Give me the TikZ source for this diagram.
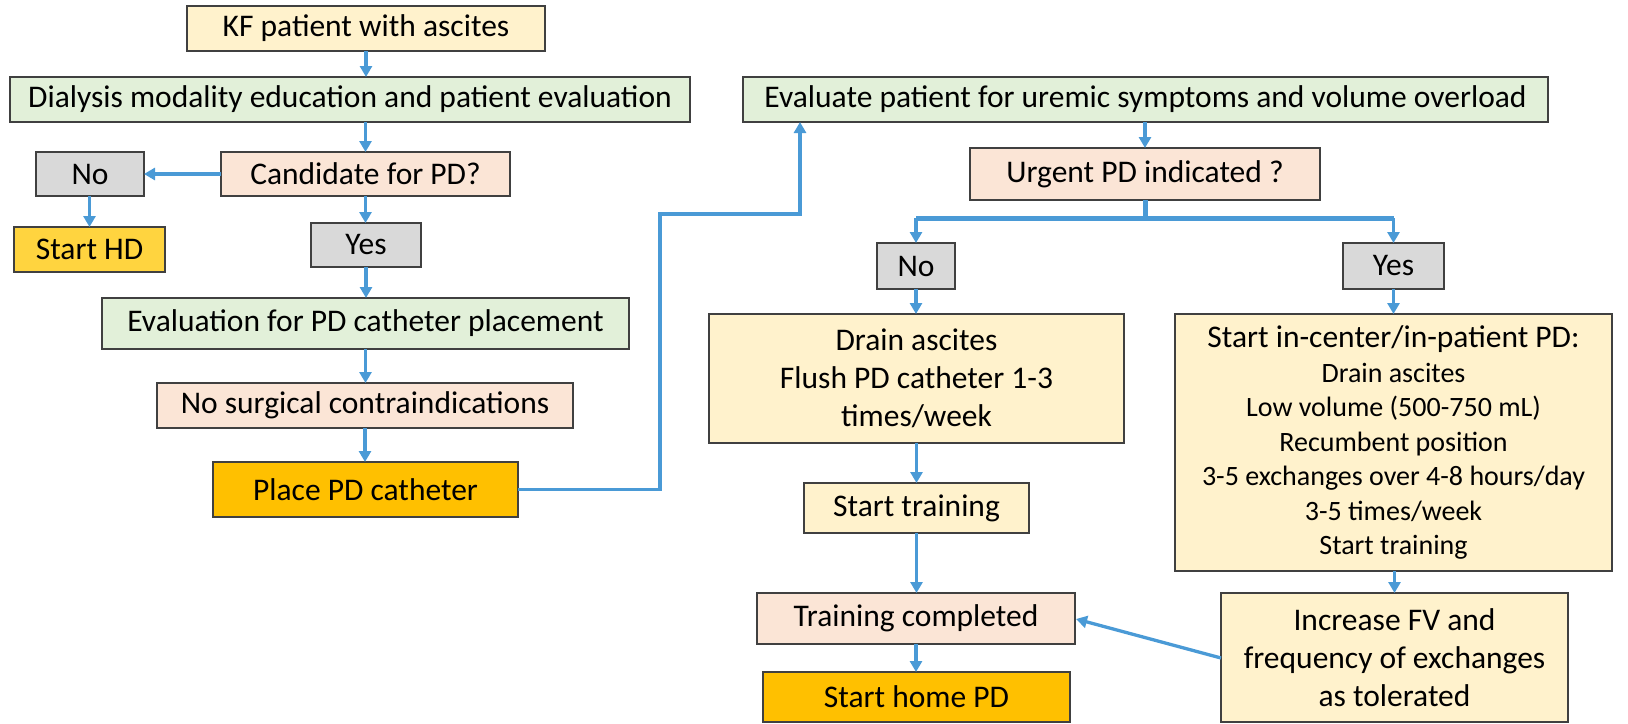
\documentclass[tikz,border=0pt]{standalone}
\usepackage{fontspec}
\setmainfont{Carlito}
\usetikzlibrary{arrows.meta}
\definecolor{cyel}{HTML}{FFF2CC}
\definecolor{cgrn}{HTML}{E2F0D9}
\definecolor{cpch}{HTML}{FBE5D6}
\definecolor{cgry}{HTML}{D9D9D9}
\definecolor{cgold}{HTML}{FFD43F}
\definecolor{corg}{HTML}{FFC000}
\definecolor{cblu}{HTML}{4A9AD6}
\definecolor{cbrd}{HTML}{404040}
\tikzset{
  bx/.style={draw=cbrd, line width=1.3pt, inner sep=0pt, outer sep=0pt, align=center,
    font=\fontsize{31.5}{38}\selectfont},
  arr/.style={draw=cblu, line width=3.3pt, -{Triangle[length=11pt,width=12pt]}},
  thk/.style={draw=cblu, line width=5pt},
}
\begin{document}
\begin{tikzpicture}[x=1pt,y=-1pt]
\useasboundingbox (0,0) rectangle (1628,723);
% left column
\node[bx, fill=cyel, minimum width=358pt, minimum height=45pt] (kf) at (366,28.5) {KF patient with ascites};
\node[bx, fill=cgrn, minimum width=680pt, minimum height=45pt] (dial) at (350,99.5) {Dialysis modality education and patient evaluation};
\node[bx, fill=cpch, minimum width=289pt, minimum height=44pt] (cand) at (365.5,174) {Candidate for PD?};
\node[bx, fill=cgry, minimum width=108pt, minimum height=44pt] (noA) at (90,174) {No};
\node[bx, fill=cgold, minimum width=151pt, minimum height=45pt] (hd) at (89.5,249.5) {Start HD};
\node[bx, fill=cgry, minimum width=110pt, minimum height=44pt] (yesA) at (366,245) {Yes};
\node[bx, fill=cgrn, minimum width=527pt, minimum height=51pt] (evpd) at (365.5,323.5) {Evaluation for PD catheter placement};
\node[bx, fill=cpch, minimum width=416pt, minimum height=45pt] (nosurg) at (365,405.5) {No surgical contraindications};
\node[bx, fill=corg, minimum width=305pt, minimum height=55pt] (place) at (365.5,489.5) {Place PD catheter};
% right part
\node[bx, fill=cgrn, minimum width=805pt, minimum height=45pt] (evu) at (1145.5,99.5) {Evaluate patient for uremic symptoms and volume overload};
\node[bx, fill=cpch, minimum width=350pt, minimum height=52pt] (urg) at (1145,174) {Urgent PD indicated ?};
\node[bx, fill=cgry, minimum width=78pt, minimum height=46pt] (noB) at (916,266) {No};
\node[bx, fill=cgry, minimum width=101pt, minimum height=46pt] (yesB) at (1393.5,266) {Yes};
\node[bx, fill=cyel, minimum width=415pt, minimum height=129pt] (drain) at (916.5,378.5) {Drain ascites\\Flush PD catheter 1-3\\times/week};
\node[bx, fill=cyel, minimum width=437pt, minimum height=257pt, font=\fontsize{28}{34.5}\selectfont] (inc) at (1393.5,442.5)
  {{\fontsize{31.5}{34.5}\selectfont Start in-center/in-patient PD:}\\Drain ascites\\Low volume (500-750 mL)\\Recumbent position\\3-5 exchanges over 4-8 hours/day\\3-5 times/week\\Start training};
\node[bx, fill=cyel, minimum width=225pt, minimum height=50pt] (stt) at (916.5,508) {Start training};
\node[bx, fill=cpch, minimum width=318pt, minimum height=51pt] (trc) at (916,618.5) {Training completed};
\node[bx, fill=corg, minimum width=307pt, minimum height=50pt] (home) at (916.5,697) {Start home PD};
\node[bx, fill=cyel, minimum width=347pt, minimum height=129pt] (incr) at (1394.5,657.5) {Increase FV and\\frequency of exchanges\\as tolerated};
% helper coordinates
\coordinate (b1) at (660,214);
\coordinate (b2) at (800,214);
\coordinate (br) at (1145,218);
\coordinate (iw) at (1221,658);
\coordinate (te) at (1076,619);
% connectors
\draw[arr] (kf.south) -- (kf.south |- dial.north);
\draw[arr] (dial.south -| cand.south) -- (cand.north);
\draw[arr] (cand.west) -- (noA.east);
\draw[arr] (noA.south -| hd.north) -- (hd.north);
\draw[arr] (cand.south) -- (cand.south |- yesA.north);
\draw[arr] (yesA.south) -- (yesA.south |- evpd.north);
\draw[arr] (evpd.south) -- (evpd.south |- nosurg.north);
\draw[arr] (nosurg.south) -- (nosurg.south |- place.north);
\draw[arr] (place.east) -- (place.east -| b1) -- (b1) -- (b2) -- (b2 |- evu.south);
\draw[arr] (evu.south -| urg.north) -- (urg.north);
\draw[thk] (urg.south) -- (br);
\draw[thk] (br -| noB.north) -- (br -| yesB.north);
\draw[arr] (br -| noB.north) -- (noB.north);
\draw[arr] (br -| yesB.north) -- (yesB.north);
\draw[arr] (noB.south) -- (noB.south |- drain.north);
\draw[arr] (yesB.south) -- (yesB.south |- inc.north);
\draw[arr] (drain.south -| stt.north) -- (stt.north);
\draw[arr] (stt.south) -- (stt.south |- trc.north);
\draw[arr] (trc.south) -- (trc.south |- home.north);
\draw[arr] (inc.south -| incr.north) -- (incr.north);
\draw[arr] (iw) -- (te);
\end{tikzpicture}
\end{document}
